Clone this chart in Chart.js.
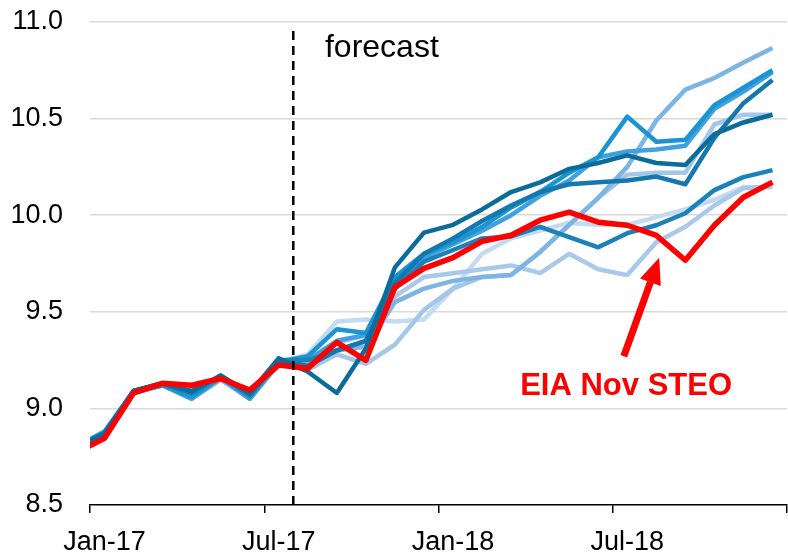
<!DOCTYPE html>
<html><head><meta charset="utf-8">
<script src="https://cdn.jsdelivr.net/npm/chart.js@4/dist/chart.umd.min.js"></script>
<style>html,body{margin:0;padding:0;background:#fff;overflow:hidden}#wrap{width:788px;height:558px}</style>
</head><body><div id="wrap"><canvas id="c" width="788" height="558"></canvas></div>
<script>
// Months Dec-16 .. Dec-18 (Dec-16 lies left of the axis and is clipped)
const months = ['Dec-16','Jan-17','Feb-17','Mar-17','Apr-17','May-17','Jun-17','Jul-17','Aug-17','Sep-17','Oct-17','Nov-17','Dec-17',
  'Jan-18','Feb-18','Mar-18','Apr-18','May-18','Jun-18','Jul-18','Aug-18','Sep-18','Oct-18','Nov-18','Dec-18'];
const tickValues = [0, 6, 12, 18, 24];
const tickLabels = ['Jan-17', 'Jul-17', 'Jan-18', 'Jul-18', ''];
const yTicks = [8.5, 9.0, 9.5, 10.0, 10.5, 11.0];

const eiaNovSteo = [8.77,8.845,9.08,9.13,9.12,9.155,9.095,9.225,9.207,9.342,9.249,9.627,9.725,9.78,9.865,9.896,9.974,10.016,9.964,9.948,9.896,9.767,9.948,10.093,10.171];
const fcDark   = [8.79,8.87,9.09,9.13,9.09,9.17,9.08,9.26,9.19,9.08,9.31,9.73,9.91,9.95,10.03,10.12,10.17,10.24,10.27,10.31,10.27,10.26,10.42,10.48,10.52];
const fcBright = [8.80,8.88,9.09,9.12,9.06,9.16,9.06,9.24,9.27,9.41,9.39,9.68,9.80,9.86,9.94,10.04,10.12,10.22,10.30,10.51,10.38,10.39,10.57,10.66,10.75];
const fcMid    = [8.80,8.87,9.09,9.13,9.08,9.17,9.07,9.25,9.22,9.30,9.35,9.65,9.80,9.88,9.97,10.05,10.12,10.16,10.17,10.18,10.20,10.16,10.40,10.58,10.70];
const fcMid2   = [8.79,8.87,9.08,9.12,9.05,9.16,9.05,9.24,9.25,9.35,9.38,9.62,9.78,9.85,9.92,10.00,10.10,10.18,10.30,10.33,10.34,10.36,10.55,10.64,10.74];
const fcSteep  = [8.79,8.86,9.08,9.12,9.05,9.15,9.05,9.23,9.22,9.30,9.32,9.55,9.62,9.66,9.68,9.69,9.81,9.95,10.09,10.25,10.49,10.65,10.71,10.79,10.865];
const fcLow    = [8.80,8.87,9.09,9.13,9.08,9.17,9.07,9.25,9.25,9.30,9.35,9.62,9.76,9.82,9.88,9.89,9.94,9.886,9.834,9.907,9.948,10.01,10.13,10.197,10.233];
const fcPale   = [8.79,8.86,9.08,9.12,9.06,9.16,9.06,9.24,9.28,9.45,9.46,9.45,9.46,9.62,9.80,9.88,9.92,9.96,9.95,9.95,9.99,10.03,10.08,10.145,10.145];
const fcLight  = [8.79,8.86,9.08,9.12,9.05,9.15,9.05,9.23,9.20,9.28,9.23,9.33,9.51,9.62,9.68,9.69,9.81,9.95,10.09,10.21,10.22,10.22,10.47,10.52,10.52];
const fcLight2 = [8.79,8.86,9.08,9.12,9.05,9.15,9.05,9.23,9.23,9.34,9.38,9.58,9.68,9.70,9.72,9.74,9.70,9.80,9.72,9.69,9.86,9.94,10.05,10.14,10.15];

const forecastStart = 7;   // Aug-17
const dashTop = 10.96;

function pts(arr){ return arr.map((v,i)=>({x:i-0.5, y:v})); }

const blueSeries = [
  {data: fcPale,   color:'#c4daf0'},
  {data: fcLight2, color:'#a9c9ea'},
  {data: fcLight,  color:'#a3c6e9'},
  {data: fcSteep,  color:'#7db5e2'},
  {data: fcMid2,   color:'#3fa1dd'},
  {data: fcBright, color:'#1a95d2'},
  {data: fcLow,    color:'#1b82b8'},
  {data: fcMid,    color:'#1477ad'},
  {data: fcDark,   color:'#0b6c9c'}
];

const datasets = [
  {label:'forecast line', data:[{x:forecastStart,y:8.5},{x:forecastStart,y:dashTop}], borderColor:'#000', borderWidth:2.5, borderDash:[9,6], pointRadius:0, clip:false},
  {label:'EIA Nov STEO', data:pts(eiaNovSteo), borderColor:'#ff0000', borderWidth:5.5, pointRadius:0, tension:0, borderJoinStyle:'round', clip:0}
];
blueSeries.slice().reverse().forEach((s,k)=>datasets.push({label:'fc'+k, data:pts(s.data), borderColor:s.color, borderWidth:4.5, pointRadius:0, tension:0, borderJoinStyle:'round', clip:0}));

const annotations = {
  plugin:{
    id:'annot',
    afterDatasetsDraw(chart){
      const {ctx, scales:{x,y}} = chart;
      ctx.save();
      ctx.fillStyle = '#000';
      ctx.font = '32px "Liberation Sans", Arial, sans-serif';
      ctx.textAlign = 'left'; ctx.textBaseline = 'alphabetic';
      ctx.fillText('forecast', x.getPixelForValue(8.09), y.getPixelForValue(10.82));
      // arrow
      const tx = x.getPixelForValue(19.6), ty = y.getPixelForValue(9.78);
      const sx = x.getPixelForValue(18.38), sy = y.getPixelForValue(9.27);
      const ang = Math.atan2(ty-sy, tx-sx);
      const hl = 26, hw = 11;
      const bx = tx - hl*Math.cos(ang), by = ty - hl*Math.sin(ang);
      ctx.strokeStyle = '#ff0000'; ctx.lineWidth = 7; ctx.lineCap = 'butt';
      ctx.beginPath(); ctx.moveTo(sx,sy); ctx.lineTo(bx,by); ctx.stroke();
      ctx.fillStyle = '#ff0000';
      ctx.beginPath(); ctx.moveTo(tx,ty);
      ctx.lineTo(bx + hw*Math.sin(ang), by - hw*Math.cos(ang));
      ctx.lineTo(bx - hw*Math.sin(ang), by + hw*Math.cos(ang));
      ctx.closePath(); ctx.fill();
      ctx.font = 'bold 31px "Liberation Sans", Arial, sans-serif';
      ctx.textAlign = 'center';
      ctx.fillText('EIA Nov STEO', x.getPixelForValue(18.46), y.getPixelForValue(9.067));
      ctx.restore();
    }
  }
};

new Chart(document.getElementById('c'), {
  type:'line',
  data:{datasets},
  options:{
    responsive:false, animation:false, devicePixelRatio:1,
    layout:{padding:{top:22,right:1,left:0,bottom:0}},
    plugins:{legend:{display:false}, tooltip:{enabled:false}},
    scales:{
      x:{type:'linear', min:0, max:24,
        afterBuildTicks(s){ s.ticks = tickValues.map(v=>({value:v})); },
        afterFit(s){ s.height = 53; s.paddingRight = 0; s.paddingLeft = 0; },
        ticks:{callback:(v)=>{const i=tickValues.indexOf(v); return i>=0?tickLabels[i]:'';}, labelOffset:14.5, padding:13, maxRotation:0, autoSkip:false,
          color:'#000', font:{family:'"Liberation Sans", Arial, sans-serif', size:27}},
        grid:{drawOnChartArea:false, drawTicks:true, tickLength:8, color:'#000', lineWidth:1.5},
        border:{display:true, color:'#000', width:1.5}
      },
      y:{min:8.5, max:11,
        afterBuildTicks(s){ s.ticks = yTicks.map(v=>({value:v})); },
        afterFit(s){ s.width = 90; s.paddingTop = 0; s.paddingBottom = 0; },
        ticks:{callback:(v)=>v.toFixed(1), padding:27, color:'#000', font:{family:'"Liberation Sans", Arial, sans-serif', size:27}},
        grid:{color:(c)=>c.tick && c.tick.value===8.5?'rgba(0,0,0,0)':'#d9d9d9', lineWidth:1.5, drawTicks:false},
        border:{display:false}
      }
    }
  },
  plugins:[annotations.plugin]
});
</script></body></html>
